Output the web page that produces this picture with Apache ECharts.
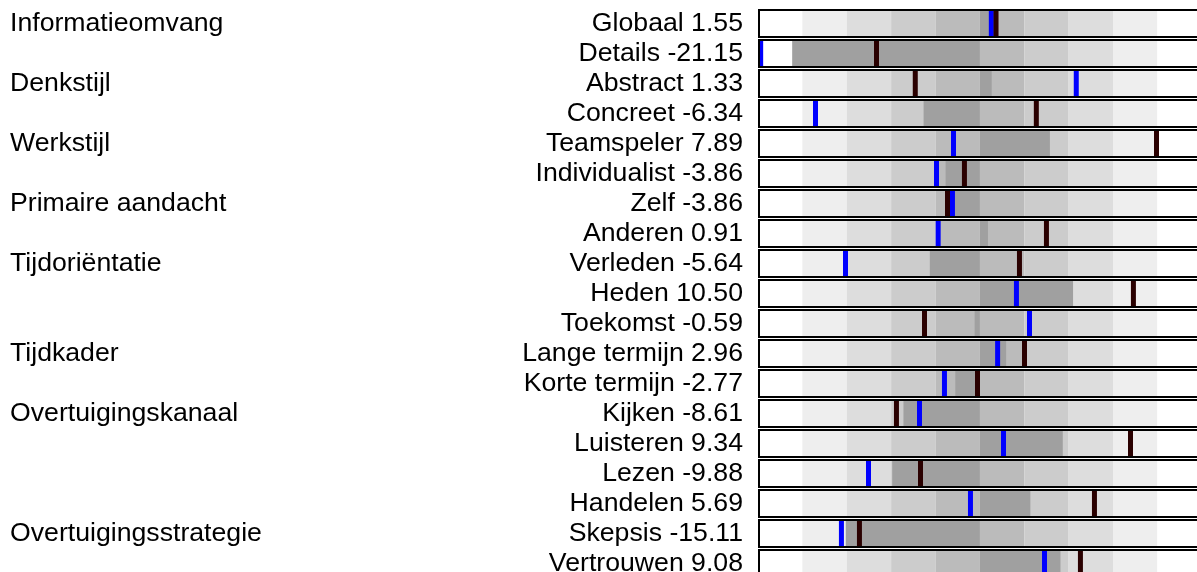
<!DOCTYPE html>
<html>
<head>
<meta charset="utf-8">
<script src="https://cdn.jsdelivr.net/npm/echarts@6/dist/echarts.min.js"></script>
<style>
  html, body { margin: 0; padding: 0; background: #ffffff; }
  #chart { width: 1197px; height: 572px; }
</style>
</head>
<body>
<div id="chart"></div>
<script>
// Scale items, one row each
const categories = [
  'Globaal', 'Details', 'Abstract', 'Concreet', 'Teamspeler', 'Individualist',
  'Zelf', 'Anderen', 'Verleden', 'Heden', 'Toekomst', 'Lange termijn',
  'Korte termijn', 'Kijken', 'Luisteren', 'Lezen', 'Handelen', 'Skepsis', 'Vertrouwen'
];

// Dimension names shown at the left, on the first row of each dimension
const groupNames = [
  'Informatieomvang', '', 'Denkstijl', '', 'Werkstijl', '', 'Primaire aandacht', '',
  'Tijdoriëntatie', '', '', 'Tijdkader', '', 'Overtuigingskanaal', '', '', '',
  'Overtuigingsstrategie', ''
];

// Score per item (dark bar from zero, also printed in the label)
const scores = [
  1.55, -21.15, 1.33, -6.34, 7.89, -3.86, -3.86, 0.91, -5.64, 10.50,
  -0.59, 2.96, -2.77, -8.61, 9.34, -9.88, 5.69, -15.11, 9.08
];

// Blue marker positions
const blueMarks = [
  1.29, -24.70, 10.86, -18.52, -2.97, -4.89, -3.09, -4.70, -15.14, 4.12,
  5.59, 2.00, -3.99, -6.80, 2.66, -12.55, -1.06, -15.60, 7.28
];

// Dark brown marker positions
const brownMarks = [
  1.82, -11.65, -7.28, 6.36, 19.90, -1.74, -3.65, 7.50, 4.46, 17.30,
  -6.24, 5.03, -0.27, -9.40, 16.97, -6.69, 12.91, -13.57, 11.33
];

// Background zones along the value axis
const bandBreaks = [-25, -20, -15, -10, -5, 0, 5, 10, 15, 20, 25];
const bandShades = ['#ffffff', '#eeeeee', '#dddddd', '#cccccc', '#bbbbbb',
                    '#bbbbbb', '#cccccc', '#dddddd', '#eeeeee', '#ffffff'];

const rows = categories.map((c, i) => [i, scores[i], blueMarks[i], brownMarks[i]]);

const FONT = '"Liberation Sans", Arial, sans-serif';
const FONT_SIZE = 26.67;
const BOX_H = 29;
const BORDER = 2;
const MARK_W = 5;

function renderItem(params, api) {
  const row = api.value(0);
  const zero = api.coord([0, row]);
  const cy = zero[1];
  const xL = api.coord([bandBreaks[0], row])[0];
  const xR = api.coord([bandBreaks[bandBreaks.length - 1], row])[0];
  const top = cy - BOX_H / 2;
  const innerTop = top + BORDER;
  const innerH = BOX_H - 2 * BORDER;
  const children = [];

  // zones
  for (let k = 0; k < bandShades.length; k++) {
    const x0 = api.coord([bandBreaks[k], row])[0];
    const x1 = api.coord([bandBreaks[k + 1], row])[0];
    children.push({
      type: 'rect',
      shape: { x: x0, y: innerTop, width: x1 - x0, height: innerH },
      style: { fill: bandShades[k] }
    });
  }

  // score bar from zero
  const xs = api.coord([api.value(1), row])[0];
  children.push({
    type: 'rect',
    shape: { x: Math.min(zero[0], xs), y: innerTop, width: Math.abs(xs - zero[0]), height: innerH },
    style: { fill: '#a0a0a0' }
  });

  // markers
  const marker = (v, color) => {
    let x = api.coord([v, row])[0] - MARK_W / 2;
    x = Math.max(xL, Math.min(xR - MARK_W, x));
    children.push({
      type: 'rect',
      shape: { x: x, y: innerTop, width: MARK_W, height: innerH },
      style: { fill: color }
    });
  };
  marker(api.value(2), '#0000ff');
  marker(api.value(3), '#2a0000');

  // frame
  children.push({
    type: 'rect',
    shape: { x: xL + BORDER / 2, y: top + BORDER / 2, width: xR - xL - BORDER, height: BOX_H - BORDER },
    style: { fill: 'none', stroke: '#000000', lineWidth: BORDER }
  });

  return { type: 'group', children: children };
}

const chart = echarts.init(document.getElementById('chart'), null, { renderer: 'canvas' });

chart.setOption({
  animation: false,
  backgroundColor: '#ffffff',
  grid: {
    left: 758, top: 8.5, width: 443.75, height: 570,
    containLabel: false,
    outerBoundsMode: 'none'
  },
  xAxis: {
    type: 'value',
    min: bandBreaks[0],
    max: bandBreaks[bandBreaks.length - 1],
    show: false
  },
  yAxis: [
    {
      type: 'category',
      data: categories,
      inverse: true,
      position: 'left',
      axisLine: { show: false },
      axisTick: { show: false },
      splitLine: { show: false },
      axisLabel: {
        interval: 0,
        margin: 15,
        fontFamily: FONT,
        fontSize: FONT_SIZE,
        color: '#000000',
        formatter: (v, i) => v + ' ' + scores[i].toFixed(2)
      }
    },
    {
      type: 'category',
      data: groupNames.map((g, i) => String(i)),
      inverse: true,
      position: 'left',
      axisLine: { show: false },
      axisTick: { show: false },
      splitLine: { show: false },
      axisLabel: {
        interval: 0,
        margin: 748,
        align: 'left',
        fontFamily: FONT,
        fontSize: FONT_SIZE,
        color: '#000000',
        formatter: (v, i) => groupNames[i]
      }
    }
  ],
  series: [{
    type: 'custom',
    renderItem: renderItem,
    xAxisIndex: 0,
    yAxisIndex: 0,
    encode: { x: [1, 2, 3], y: 0 },
    data: rows,
    clip: false
  }]
});
</script>
</body>
</html>
